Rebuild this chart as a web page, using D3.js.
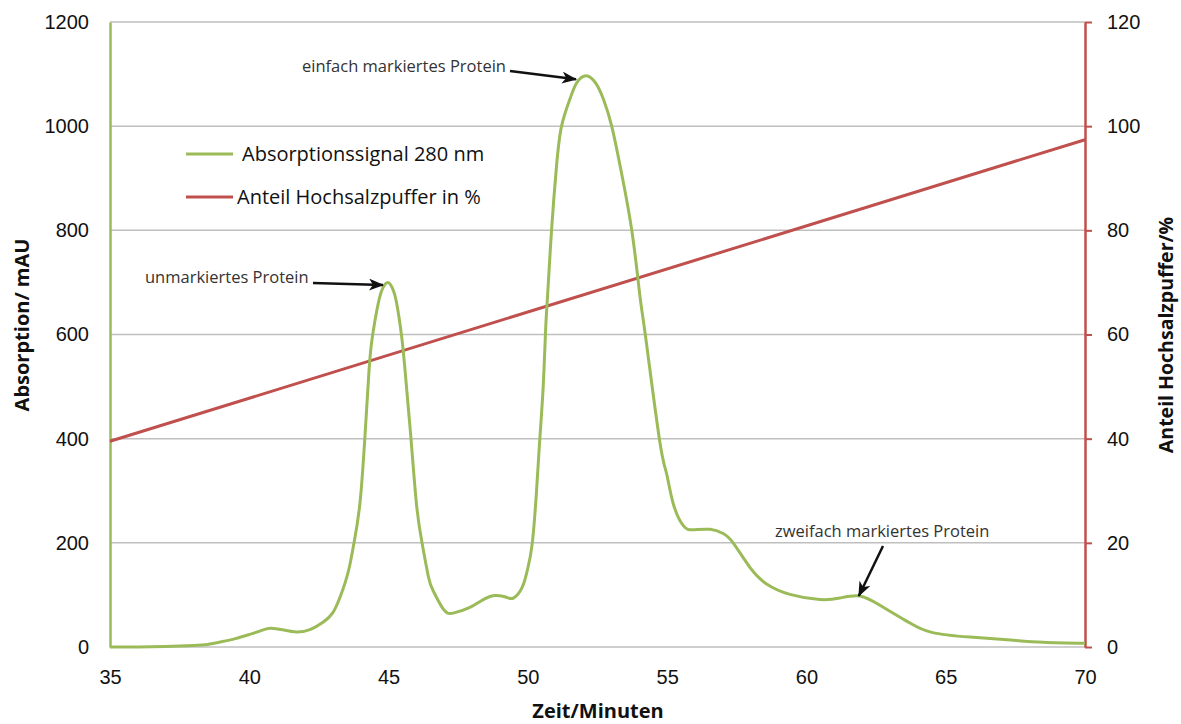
<!DOCTYPE html>
<html>
<head>
<meta charset="utf-8">
<script src="https://cdn.jsdelivr.net/npm/d3@7"></script>
<style>
  body { margin: 0; background: #fff; }
  svg { font-family: "Open Sans", sans-serif; }
  .tick text { font-size: 20px; fill: #111; }
  .axis-title { font-size: 20px; font-weight: bold; fill: #111; }
  .note { font-size: 16.5px; fill: #333; }
  .legend text { font-size: 20px; fill: #111; }
</style>
</head>
<body>
<svg id="chart" width="1181" height="724"></svg>
<script>
// Absorption at 280 nm (mAU), [minute, value]
const absorption = [
  [35, 0], [36, 0], [37, 1], [38, 3], [38.5, 5], [39, 10], [39.5, 16], [40, 24],
  [40.4, 31], [40.75, 36], [41.2, 33], [41.7, 29], [42.2, 34], [42.66, 48], [43.0, 66],
  [43.26, 96], [43.45, 125], [43.6, 155], [43.76, 200], [43.97, 275], [44.15, 403],
  [44.3, 532], [44.42, 596], [44.63, 660], [44.8, 690], [44.97, 700], [45.13, 690],
  [45.29, 660], [45.47, 596], [45.59, 532], [45.8, 403], [46.0, 275], [46.2, 200],
  [46.43, 135], [46.6, 108], [46.96, 73], [47.32, 65], [47.92, 76], [48.3, 88],
  [48.64, 97], [48.88, 99], [49.2, 96], [49.48, 94], [49.8, 115], [49.98, 147],
  [50.16, 200], [50.32, 307], [50.43, 400], [50.55, 500], [50.64, 612], [50.7, 668],
  [50.85, 800], [51.03, 924], [51.21, 1000], [51.51, 1052], [51.75, 1083], [52.09, 1097],
  [52.43, 1083], [52.71, 1052], [53.01, 1000], [53.31, 924], [53.73, 800], [54.02, 675],
  [54.22, 598], [54.72, 400], [54.98, 333], [55.22, 275], [55.58, 233], [55.94, 225],
  [56.54, 226], [57.01, 218], [57.37, 200], [57.97, 153], [58.57, 121], [59.41, 101],
  [60.48, 91], [61.2, 94], [61.92, 98], [62.64, 80], [63.36, 57], [63.75, 45],
  [64.5, 28], [65.87, 19], [67.2, 14], [68.5, 9], [70, 7]
];

// high salt buffer share (%), linear gradient
const buffer = [[35, 39.5], [70, 97.4]];

const xTicks = [35, 40, 45, 50, 55, 60, 65, 70];
const yTicks = [0, 200, 400, 600, 800, 1000, 1200];
const y2Ticks = [0, 20, 40, 60, 80, 100, 120];

const legendItems = [
  { label: "Absorptionssignal 280 nm", color: "#9bbb59" },
  { label: "Anteil Hochsalzpuffer in %", color: "#c0504d" }
];

const notes = [
  { text: "einfach markiertes Protein", tx: 302, ty: 72, from: [510, 71], at: [51.73, 1090] },
  { text: "unmarkiertes Protein", tx: 145, ty: 283, from: [313, 283], at: [44.8, 695] },
  { text: "zweifach markiertes Protein", tx: 775, ty: 537, from: [883, 546], at: [61.88, 98] }
];

const green = "#9bbb59", red = "#c0504d", grid = "#bfbfbf";
const margin = { top: 22, right: 96, bottom: 77, left: 110 };
const width = 1181, height = 724;

const svg = d3.select("#chart");

const x = d3.scaleLinear().domain([35, 70]).range([margin.left, width - margin.right]);
const y = d3.scaleLinear().domain([0, 1200]).range([height - margin.bottom, margin.top]);
const y2 = d3.scaleLinear().domain([0, 120]).range([height - margin.bottom, margin.top]);

svg.append("defs").append("marker")
  .attr("id", "arrow")
  .attr("viewBox", "0 0 15 12")
  .attr("refX", 14).attr("refY", 6)
  .attr("markerWidth", 15).attr("markerHeight", 12)
  .attr("markerUnits", "userSpaceOnUse")
  .attr("orient", "auto")
  .append("path")
  .attr("d", "M0,0 L15,6 L0,12 L4,6 Z")
  .attr("fill", "#111");

// gridlines
svg.append("g")
  .selectAll("line")
  .data(yTicks)
  .join("line")
  .attr("x1", margin.left).attr("x2", width - margin.right)
  .attr("y1", d => y(d)).attr("y2", d => y(d))
  .attr("stroke", grid).attr("stroke-width", 1.5);

// left axis
svg.append("g")
  .attr("transform", `translate(${margin.left},0)`)
  .call(d3.axisLeft(y).tickValues(yTicks).tickFormat(d3.format("d")).tickSize(0).tickPadding(21))
  .call(g => g.select(".domain").attr("stroke", green).attr("stroke-width", 2.5));

// right axis
svg.append("g")
  .attr("transform", `translate(${width - margin.right},0)`)
  .call(d3.axisRight(y2).tickValues(y2Ticks).tickFormat(d3.format("d")).tickSize(7).tickSizeOuter(0).tickPadding(15))
  .call(g => g.select(".domain").attr("stroke", red).attr("stroke-width", 2.5))
  .call(g => g.selectAll(".tick line").attr("stroke", red).attr("stroke-width", 2));

// bottom axis
svg.append("g")
  .attr("transform", `translate(0,${height - margin.bottom})`)
  .call(d3.axisBottom(x).tickValues(xTicks).tickSize(0).tickPadding(23))
  .call(g => g.select(".domain").remove());

svg.append("text")
  .attr("class", "axis-title")
  .attr("x", 598)
  .attr("y", 718)
  .attr("text-anchor", "middle")
  .text("Zeit/Minuten");

svg.append("text")
  .attr("class", "axis-title")
  .attr("transform", "translate(29,325)rotate(-90)")
  .attr("text-anchor", "middle")
  .text("Absorption/ mAU");

svg.append("text")
  .attr("class", "axis-title")
  .attr("transform", "translate(1173,335)rotate(-90)")
  .attr("text-anchor", "middle")
  .style("font-size", "19.5px")
  .text("Anteil Hochsalzpuffer/%");

// buffer gradient line
svg.append("path")
  .datum(buffer)
  .attr("fill", "none")
  .attr("stroke", red)
  .attr("stroke-width", 3)
  .attr("d", d3.line().x(d => x(d[0])).y(d => y2(d[1])));

// absorption trace
svg.append("path")
  .datum(absorption)
  .attr("fill", "none")
  .attr("stroke", green)
  .attr("stroke-width", 3)
  .attr("d", d3.line().x(d => x(d[0])).y(d => y(d[1])).curve(d3.curveNatural));

// legend
const legend = svg.append("g").attr("class", "legend");
legend.selectAll("line")
  .data(legendItems)
  .join("line")
  .attr("x1", 186).attr("x2", 233)
  .attr("y1", (d, i) => 154 + i * 43).attr("y2", (d, i) => 154 + i * 43)
  .attr("stroke", d => d.color).attr("stroke-width", 3);
legend.selectAll("text")
  .data(legendItems)
  .join("text")
  .attr("x", (d, i) => i === 0 ? 242 : 237)
  .attr("y", (d, i) => 161 + i * 43)
  .text(d => d.label);

// peak annotations
const ann = svg.append("g");
ann.selectAll("text")
  .data(notes)
  .join("text")
  .attr("class", "note")
  .attr("x", d => d.tx).attr("y", d => d.ty)
  .text(d => d.text);
ann.selectAll("line")
  .data(notes)
  .join("line")
  .attr("x1", d => d.from[0]).attr("y1", d => d.from[1])
  .attr("x2", d => x(d.at[0])).attr("y2", d => y(d.at[1]))
  .attr("stroke", "#111").attr("stroke-width", 2.5)
  .attr("marker-end", "url(#arrow)");
</script>
</body>
</html>
